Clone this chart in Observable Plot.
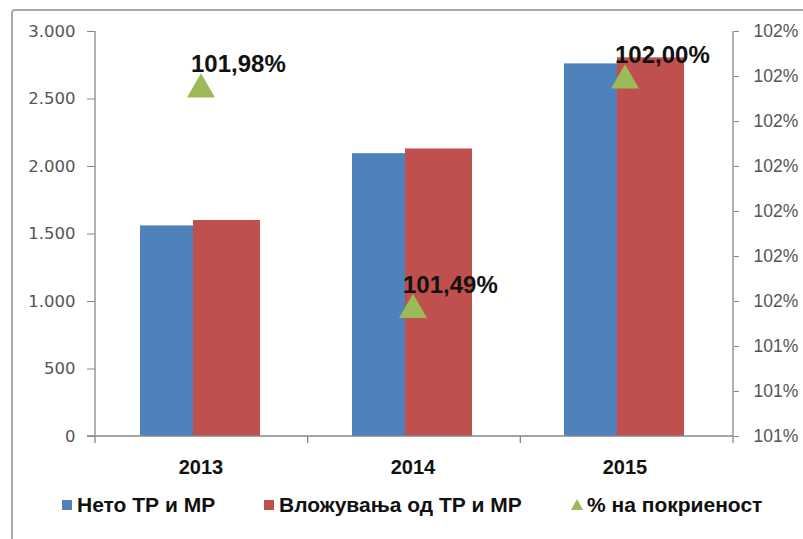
<!DOCTYPE html>
<html>
<head>
<meta charset="utf-8">
<script src="https://cdn.jsdelivr.net/npm/d3@7"></script>
<script src="https://cdn.jsdelivr.net/npm/@observablehq/plot@0.6"></script>
<style>
  html, body { margin: 0; padding: 0; background: #fff; }
  #wrap { position: relative; width: 803px; height: 539px; overflow: hidden; background: #fff; }
  #frame { position: absolute; left: 11px; top: 9px; width: 820px; height: 560px; border: 2px solid #a9a9a9; border-radius: 4px; box-sizing: border-box; }
  #chart { position: absolute; left: 0; top: 0; }
  .leg { position: absolute; top: 492px; font-family: "Liberation Sans", Arial, sans-serif; font-weight: bold; font-size: 21px; color: #111; white-space: nowrap; line-height: 26px; }
  .sw { display: inline-block; width: 10px; height: 10px; margin-right: 5px; vertical-align: 2px; }
  .tri { display: inline-block; width: 0; height: 0; border-left: 6px solid transparent; border-right: 6px solid transparent; border-bottom: 11px solid #9BBB59; margin-right: 4px; vertical-align: 2px; }
</style>
</head>
<body>
<div id="wrap">
  <div id="frame"></div>
  <div id="chart"></div>
  <div id="legend"></div>
</div>
<script>
// ---- data ----
const years = ["2013", "2014", "2015"];
const netoTRMR = [1560, 2095, 2760];            // Нето ТР и МР
const vlozuvanjaTRMR = [1600, 2130, 2805];      // Вложувања од ТР и МР
const pokrienost = [101.98, 101.49, 102.00];    // % на покриеност
const pokrienostLabels = ["101,98%", "101,49%", "102,00%"];
const leftTicks = [0, 500, 1000, 1500, 2000, 2500, 3000];
const rightTicks = [101.2, 101.3, 101.4, 101.5, 101.6, 101.7, 101.8, 101.9, 102.0, 102.1];
const rightTickLabels = ["101%", "101%", "101%", "102%", "102%", "102%", "102%", "102%", "102%", "102%"];
const leftDomain = [0, 3000];
const rightDomain = [101.2, 102.1];
const seriesNames = ["Нето ТР и МР", "Вложувања од ТР и МР", "% на покриеност"];
const colors = ["#4F81BD", "#C0504D", "#9BBB59"];

// map secondary axis (percent) onto the primary scale
const toLeft = p => leftDomain[0] + (p - rightDomain[0]) / (rightDomain[1] - rightDomain[0]) * (leftDomain[1] - leftDomain[0]);

const locale = d3.formatLocale({decimal: ",", thousands: ".", grouping: [3], currency: ["", ""]});
const fmtLeft = locale.format(",");

const netoData = years.map((y, i) => ({year: y, v: netoTRMR[i]}));
const vlozData = years.map((y, i) => ({year: y, v: vlozuvanjaTRMR[i]}));
const pctData = years.map((y, i) => ({year: y, p: pokrienost[i], label: pokrienostLabels[i]}));
const rightMapped = rightTicks.map(toLeft);

const axisColor = "#868686";

function axisLines(index, scales, values, dim) {
  const g = d3.create("svg:g").attr("stroke", axisColor).attr("stroke-width", 1.3).attr("fill", "none");
  const L = dim.marginLeft, R = dim.width - dim.marginRight;
  const T = dim.marginTop;
  const yb = scales.y(0);
  g.append("line").attr("x1", L).attr("x2", L).attr("y1", T).attr("y2", yb + 7);
  g.append("line").attr("x1", R).attr("x2", R).attr("y1", T).attr("y2", yb + 7);
  g.append("line").attr("x1", L - 8).attr("x2", R).attr("y1", yb).attr("y2", yb);
  const step = (R - L) / years.length;
  for (let i = 1; i < years.length; i++) {
    const xb = L + i * step;
    g.append("line").attr("x1", xb).attr("x2", xb).attr("y1", yb).attr("y2", yb + 7);
  }
  return g.node();
}

const plot = Plot.plot({
  width: 803,
  height: 480,
  marginTop: 31,
  marginBottom: 44,
  marginLeft: 95,
  marginRight: 70,
  style: {fontFamily: "'DejaVu Sans', sans-serif", background: "transparent", overflow: "visible"},
  x: {type: "band", domain: years, paddingInner: 0.685, paddingOuter: 0.3425, axis: null},
  y: {domain: leftDomain, axis: null},
  marks: [
    Plot.barY(netoData, {x: "year", y: "v", fill: colors[0], dx: -29}),
    Plot.barY(vlozData, {x: "year", y: "v", fill: colors[1], dx: 24}),
    axisLines,
    Plot.axisY(leftTicks, {anchor: "left", tickSize: 8, tickPadding: 12, tickFormat: fmtLeft, fontSize: 16.5, fill: "#555", stroke: axisColor, label: null}),
    Plot.axisY(rightMapped, {anchor: "right", tickSize: 5, tickPadding: 15, tickFormat: d => rightTickLabels[rightMapped.indexOf(d)], fontSize: 17.5, fill: "#555", stroke: axisColor, fontFamily: "'Liberation Sans', sans-serif", label: null}),
    Plot.text(years, {x: d => d, y: () => 0, dy: 31, dx: -2, text: d => d, fontSize: 20, fontWeight: "bold", fill: "#111", fontFamily: "'Liberation Sans', sans-serif"}),
    Plot.dot(pctData, {x: "year", y: d => toLeft(d.p), symbol: "triangle", r: 10.4, fill: colors[2], stroke: "none", dy: 4, dx: -2}),
    Plot.text(pctData, {x: "year", y: d => toLeft(d.p), text: "label", dx: -12, dy: -21, textAnchor: "start", fontSize: 24, fontWeight: "bold", fill: "#111", fontFamily: "'Liberation Sans', sans-serif"})
  ]
});
document.getElementById("chart").appendChild(plot);

// legend
const legend = document.getElementById("legend");
const legendX = [62, 264, 571];
seriesNames.forEach((name, i) => {
  const d = document.createElement("div");
  d.className = "leg";
  d.style.left = legendX[i] + "px";
  const m = document.createElement("span");
  if (i < 2) { m.className = "sw"; m.style.background = colors[i]; }
  else { m.className = "tri"; }
  d.appendChild(m);
  d.appendChild(document.createTextNode(name));
  legend.appendChild(d);
});
</script>
</body>
</html>
